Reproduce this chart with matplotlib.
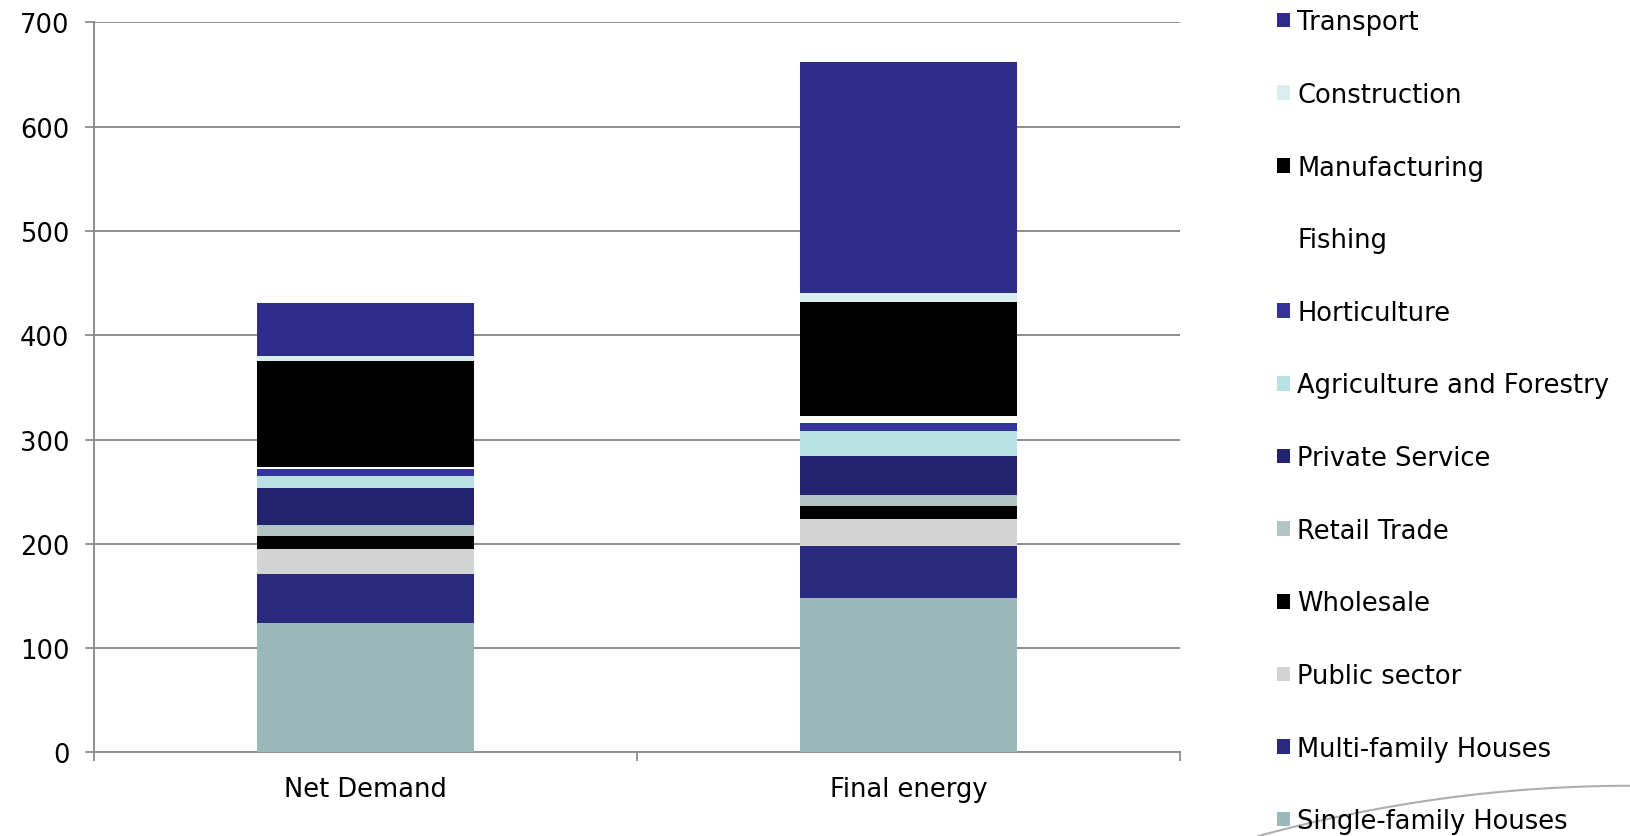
import numpy as np
import matplotlib
matplotlib.use("Agg")
import matplotlib.pyplot as plt
from matplotlib.patches import Patch
from matplotlib.lines import Line2D

# energy use by sector, stacked bottom -> top
categories = ["Net Demand", "Final energy"]
sectors = ["Single-family Houses", "Multi-family Houses", "Public sector",
           "Wholesale", "Retail Trade", "Private Service",
           "Agriculture and Forestry", "Horticulture", "Fishing",
           "Manufacturing", "Construction", "Transport"]
net_demand = [124, 47, 24.5, 12, 10.5, 36, 11, 6.5, 2, 102, 4.5, 50.5]
final_energy = [148, 50, 25.5, 12.5, 10.5, 37.5, 24.5, 7.5, 6.5, 109, 9, 221.5]
colors = ["#9bb8ba", "#29297d", "#d3d3d3", "#000000", "#b3c4c4", "#23236f",
          "#b9e0e3", "#333399", "#ffffff", "#000000", "#d9eef0", "#2e2e8a"]
yticks = [0, 100, 200, 300, 400, 500, 600, 700]

plt.rcParams["font.family"] = "DejaVu Sans"
fig = plt.figure(figsize=(16.3, 8.37), dpi=100)
ax = fig.add_axes([0.0574, 0.0998, 0.6666, 0.8722])

x = np.arange(len(categories))
values = np.array([net_demand, final_energy])
bottom = np.zeros(len(categories))
for i, name in enumerate(sectors):
    ax.bar(x, values[:, i], 0.4, bottom=bottom, color=colors[i], label=name,
           zorder=3)
    bottom += values[:, i]

ax.set_xlim(-0.5, 1.5)
ax.set_ylim(0, 700)
ax.set_yticks(yticks)
ax.set_xticks(x)
ax.set_xticklabels(categories)
ax.set_xticks([-0.5, 0.5, 1.5], minor=True)
ax.tick_params(axis="x", which="major", length=0, pad=17, labelsize=18.5)
ax.tick_params(axis="x", which="minor", length=6.5, width=1.3, color="#8c8c8c")
ax.tick_params(axis="y", length=6.5, width=1.3, color="#8c8c8c", pad=11,
               labelsize=18.5)
ax.yaxis.grid(True, color="#8c8c8c", linewidth=1.4, zorder=0)
ax.set_axisbelow(True)
for s in ["top", "right"]:
    ax.spines[s].set_visible(False)
for s in ["left", "bottom"]:
    ax.spines[s].set_color("#8c8c8c")
    ax.spines[s].set_linewidth(1.4)

handles = [Patch(facecolor=colors[i], edgecolor="none", label=sectors[i])
           for i in range(len(sectors))][::-1]
fig.legend(handles=handles, loc="upper left", bbox_to_anchor=(0.777, 1.0),
           frameon=False, fontsize=18.5, handlelength=0.5, handleheight=0.5,
           handletextpad=0.3, labelspacing=1.815, borderaxespad=0)

# faint swoosh in the bottom right corner
sx = np.linspace(0.772, 1.0, 50)
sy = 0.0 + 0.06 * (1 - (1 - (sx - 0.772) / 0.228) ** 2)
fig.add_artist(Line2D(sx, sy, transform=fig.transFigure, color="#9a9a9a",
                      linewidth=1.5, alpha=0.8))

fig.savefig("out.png", dpi=100)
